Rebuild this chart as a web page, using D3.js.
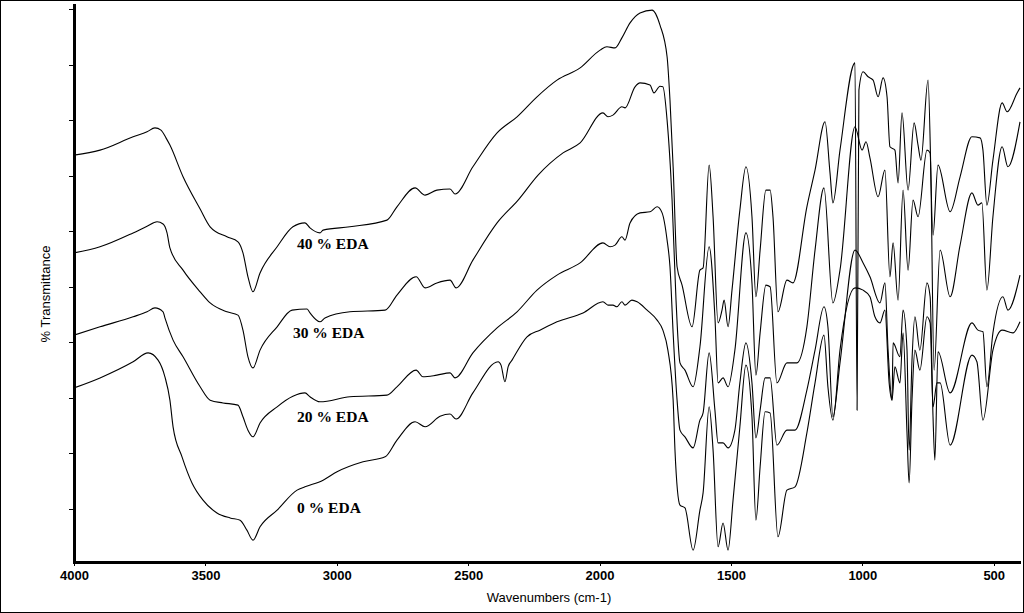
<!DOCTYPE html>
<html>
<head>
<meta charset="utf-8">
<script src="https://cdn.jsdelivr.net/npm/d3@7"></script>
<style>
  body { margin: 0; background: #fff; }
  svg { display: block; }
</style>
</head>
<body>
<svg width="1024" height="613"></svg>
<script>
// FTIR spectra, [wavenumber cm-1, % transmittance (offset traces)]
const eda40 = [[4000,73.7],[3901,74.6],[3775,77.0],[3722,77.9],[3692,78.6],[3669,78.2],[3650,76.8],[3635,75.5],[3585,69.8],[3520,64.0],[3482,60.8],[3418,59.0],[3376,58.1],[3357,56.1],[3338,51.8],[3319,49.1],[3292,52.5],[3227,57.2],[3167,60.8],[3121,61.5],[3102,60.6],[3064,59.7],[3052,60.2],[2950,60.8],[2809,62.0],[2771,64.4],[2702,67.8],[2664,66.5],[2619,67.4],[2569,67.6],[2550,66.7],[2482,71.6],[2390,77.7],[2314,80.6],[2238,84.2],[2162,87.2],[2074,89.4],[1998,92.6],[1972,93.2],[1941,93.0],[1915,94.8],[1884,97.5],[1846,99.3],[1800,99.8],[1770,97.1],[1743,91.4],[1732,83.6],[1720,71.6],[1705,53.6],[1686,50.3],[1648,42.8],[1618,53.0],[1606,53.4],[1583,71.9],[1568,62.6],[1549,43.5],[1534,45.8],[1526,47.6],[1511,42.8],[1496,49.4],[1466,63.8],[1443,71.6],[1420,62.6],[1405,48.2],[1389,56.6],[1367,67.4],[1351,67.4],[1340,62.6],[1321,45.5],[1287,51.2],[1264,50.7],[1211,64.4],[1180,71.0],[1142,79.7],[1123,70.5],[1112,65.1],[1085,74.6],[1028,90.3],[1020,27.8],[1013,85.4],[997,88.7],[978,87.8],[959,87.2],[940,84.2],[921,87.6],[906,84.2],[895,75.2],[876,74.6],[864,68.7],[849,81.3],[826,67.4],[803,79.5],[788,75.5],[777,72.8],[750,87.2],[731,59.3],[712,71.9],[666,63.5],[628,69.8],[583,77.0],[552,76.8],[541,74.6],[526,64.7],[503,72.8],[468,83.1],[449,81.5],[411,84.9],[400,85.8]];

const eda30 = [[4000,56.1],[3901,57.2],[3775,59.7],[3722,60.9],[3684,61.7],[3661,61.3],[3646,59.7],[3635,57.0],[3585,53.0],[3520,49.1],[3482,47.1],[3418,45.5],[3376,44.9],[3357,42.2],[3338,37.4],[3319,35.4],[3292,38.6],[3227,42.8],[3170,45.8],[3113,46.0],[3102,45.3],[3064,43.7],[3045,44.4],[2950,45.5],[2816,45.8],[2771,48.5],[2698,51.8],[2664,49.8],[2619,50.7],[2569,51.2],[2546,49.8],[2482,54.8],[2390,61.5],[2310,65.6],[2234,70.1],[2139,74.1],[2074,75.9],[1987,81.3],[1968,80.6],[1949,80.9],[1915,82.4],[1903,82.2],[1865,86.0],[1846,86.7],[1808,86.3],[1793,84.9],[1770,86.1],[1759,86.0],[1743,80.0],[1724,65.6],[1709,47.6],[1694,36.3],[1675,35.0],[1644,32.0],[1618,39.2],[1583,57.2],[1561,44.6],[1549,32.7],[1530,33.6],[1511,32.0],[1485,38.6],[1443,59.7],[1420,50.7],[1405,34.1],[1389,41.7],[1367,50.3],[1351,50.0],[1325,32.7],[1287,36.3],[1249,36.3],[1211,42.8],[1180,56.6],[1146,67.8],[1112,47.1],[1085,53.0],[1028,78.8],[1001,74.6],[986,76.1],[971,73.2],[940,66.2],[914,71.0],[895,51.8],[883,57.9],[864,47.6],[845,67.4],[826,53.0],[807,65.6],[788,62.6],[754,74.6],[742,74.1],[727,35.0],[704,56.6],[666,48.2],[628,57.5],[583,66.9],[560,64.7],[545,65.1],[526,49.4],[503,62.6],[468,75.2],[446,71.6],[400,79.7]];

const eda20 = [[4000,41.3],[3901,42.8],[3775,44.6],[3722,45.5],[3692,46.2],[3661,45.5],[3654,44.4],[3623,40.4],[3585,37.4],[3520,32.0],[3482,29.6],[3433,29.1],[3376,28.7],[3357,26.6],[3338,24.2],[3319,23.0],[3292,25.5],[3227,28.4],[3167,30.3],[3121,30.9],[3102,30.2],[3064,29.3],[2950,30.2],[2809,30.5],[2771,32.0],[2698,35.0],[2672,33.8],[2619,34.1],[2569,34.5],[2550,33.6],[2482,38.1],[2390,42.6],[2314,45.5],[2238,49.4],[2162,52.1],[2074,54.3],[1987,57.9],[1960,57.2],[1941,57.5],[1915,59.0],[1903,58.4],[1884,61.5],[1846,63.3],[1808,63.5],[1781,64.4],[1762,63.3],[1743,58.4],[1732,53.6],[1720,41.7],[1705,29.6],[1694,24.2],[1675,23.0],[1644,21.0],[1618,26.0],[1606,27.3],[1583,38.1],[1561,27.8],[1549,21.9],[1530,21.9],[1511,21.0],[1485,24.2],[1466,32.7],[1443,39.9],[1420,32.7],[1405,22.8],[1389,27.8],[1370,33.6],[1351,33.6],[1325,21.5],[1287,24.2],[1256,24.2],[1211,31.4],[1180,38.6],[1146,46.4],[1131,42.8],[1112,26.6],[1085,36.3],[1028,56.6],[997,54.3],[971,51.8],[933,47.1],[914,50.7],[902,38.6],[887,29.6],[883,39.9],[857,37.4],[845,45.8],[830,38.6],[822,20.6],[811,36.8],[800,44.6],[781,38.6],[754,50.7],[742,48.2],[731,26.6],[724,18.8],[712,38.3],[666,30.9],[583,43.5],[560,42.2],[541,41.9],[526,32.0],[503,41.7],[465,48.2],[446,45.8],[400,52.1]];

const eda0 = [[4000,31.8],[3901,33.6],[3775,36.5],[3718,38.1],[3680,36.8],[3654,33.8],[3635,29.6],[3623,24.8],[3589,19.4],[3551,14.7],[3509,11.6],[3456,9.3],[3406,8.4],[3368,8.0],[3342,6.2],[3319,4.4],[3292,6.8],[3227,9.8],[3151,13.4],[3121,14.0],[3052,15.2],[2999,16.7],[2900,18.5],[2816,19.4],[2771,22.4],[2702,25.7],[2664,24.8],[2607,26.7],[2569,27.1],[2546,26.2],[2482,30.9],[2386,36.5],[2375,35.9],[2360,32.9],[2348,35.6],[2333,36.8],[2276,41.0],[2227,42.2],[2162,43.7],[2063,45.3],[1987,47.3],[1968,46.7],[1949,46.7],[1934,46.4],[1915,47.3],[1903,46.7],[1877,47.6],[1857,47.3],[1819,45.8],[1781,44.0],[1759,42.2],[1740,38.6],[1720,29.6],[1713,20.6],[1694,10.7],[1675,10.2],[1644,2.6],[1618,9.8],[1606,12.9],[1583,28.4],[1568,20.6],[1549,3.2],[1530,7.5],[1511,2.6],[1492,11.6],[1466,24.8],[1443,35.9],[1420,26.6],[1405,8.0],[1389,17.6],[1370,27.5],[1351,27.3],[1321,5.0],[1287,13.4],[1256,14.0],[1211,23.7],[1180,32.7],[1146,41.3],[1131,32.0],[1112,26.0],[1085,38.6],[1028,49.8],[997,49.4],[971,48.2],[952,44.6],[933,43.5],[914,45.8],[898,32.7],[887,29.6],[876,35.6],[857,32.7],[845,41.7],[830,23.7],[822,14.7],[811,29.6],[800,38.6],[781,35.0],[754,44.6],[742,43.5],[731,28.4],[716,32.7],[704,32.7],[666,21.5],[583,37.7],[564,36.5],[541,26.0],[503,38.6],[468,42.2],[427,41.7],[400,43.7]];

const seriesNames = ["40 % EDA", "30 % EDA", "20 % EDA", "0 % EDA"];
// where each name sits, in data units [wavenumber, %T]
const nameAnchors = [[3151, 56.8], [3167, 40.8], [3151, 25.7], [3151, 9.3]];
const xTicks = [4000, 3500, 3000, 2500, 2000, 1500, 1000, 500];
const yTicks = [10, 20, 30, 40, 50, 60, 70, 80, 90, 100];

const svg = d3.select("svg");

const x = d3.scaleLinear().domain([4000, 400]).range([74, 1020]);
const y = d3.scaleLinear().domain([0, 100]).range([564.6, 9]);

// outer frame
svg.append("rect")
    .attr("x", 0.5).attr("y", 0.5)
    .attr("width", 1023).attr("height", 612)
    .attr("fill", "none").attr("stroke", "#000");

svg.append("clipPath").attr("id", "plot")
  .append("rect")
    .attr("x", 74).attr("y", 4)
    .attr("width", 947).attr("height", 558);

// pixel x grows as wavenumber falls, so monotoneX is fine here
const line = d3.line()
    .x(d => x(d[0]))
    .y(d => y(d[1]))
    .curve(d3.curveMonotoneX);

svg.append("g")
    .attr("clip-path", "url(#plot)")
    .selectAll("path")
    .data([eda40, eda30, eda20, eda0])
    .enter().append("path")
    .attr("d", line)
    .attr("fill", "none")
    .attr("stroke", "#000")
    .attr("stroke-width", 1.1)
    .attr("stroke-linejoin", "round");

// series names
svg.append("g")
    .selectAll("text")
    .data(seriesNames)
    .enter().append("text")
    .attr("x", (d, i) => x(nameAnchors[i][0]))
    .attr("y", (d, i) => y(nameAnchors[i][1]))
    .attr("font-family", "'Liberation Serif', 'Times New Roman', serif")
    .attr("font-weight", "bold")
    .attr("font-size", 15.5)
    .text(d => d);

// y ticks (no labels)
const yAxis = svg.append("g")
    .attr("transform", "translate(73,0)")
    .call(d3.axisLeft(y).tickValues(yTicks).tickSize(4).tickFormat(""));
yAxis.select(".domain").remove();
yAxis.selectAll("line").attr("shape-rendering", "crispEdges");

// x ticks and labels
const xAxis = svg.append("g")
    .attr("transform", "translate(0,563)")
    .call(d3.axisBottom(x).tickValues(xTicks).tickSize(3).tickFormat(d3.format("d")));
xAxis.select(".domain").remove();
xAxis.selectAll("line").attr("shape-rendering", "crispEdges");
xAxis.selectAll("text")
    .attr("y", 17).attr("dy", 0)
    .attr("font-family", "'Liberation Sans', Arial, sans-serif")
    .attr("font-weight", "bold")
    .attr("font-size", 13)
    .attr("fill", "#000");

// thick axis lines
svg.append("line")
    .attr("x1", 74.5).attr("x2", 74.5)
    .attr("y1", 4).attr("y2", 564)
    .attr("stroke", "#000").attr("stroke-width", 3);
svg.append("line")
    .attr("x1", 73).attr("x2", 1021)
    .attr("y1", 562.5).attr("y2", 562.5)
    .attr("stroke", "#000").attr("stroke-width", 3);

// axis titles
svg.append("text")
    .attr("x", 549).attr("y", 602)
    .attr("text-anchor", "middle")
    .attr("font-family", "'Liberation Sans', Arial, sans-serif")
    .attr("font-size", 13)
    .text("Wavenumbers (cm-1)");

svg.append("text")
    .attr("transform", "translate(50,294) rotate(-90)")
    .attr("text-anchor", "middle")
    .attr("font-family", "'Liberation Sans', Arial, sans-serif")
    .attr("font-size", 13)
    .text("% Transmittance");
</script>
</body>
</html>
